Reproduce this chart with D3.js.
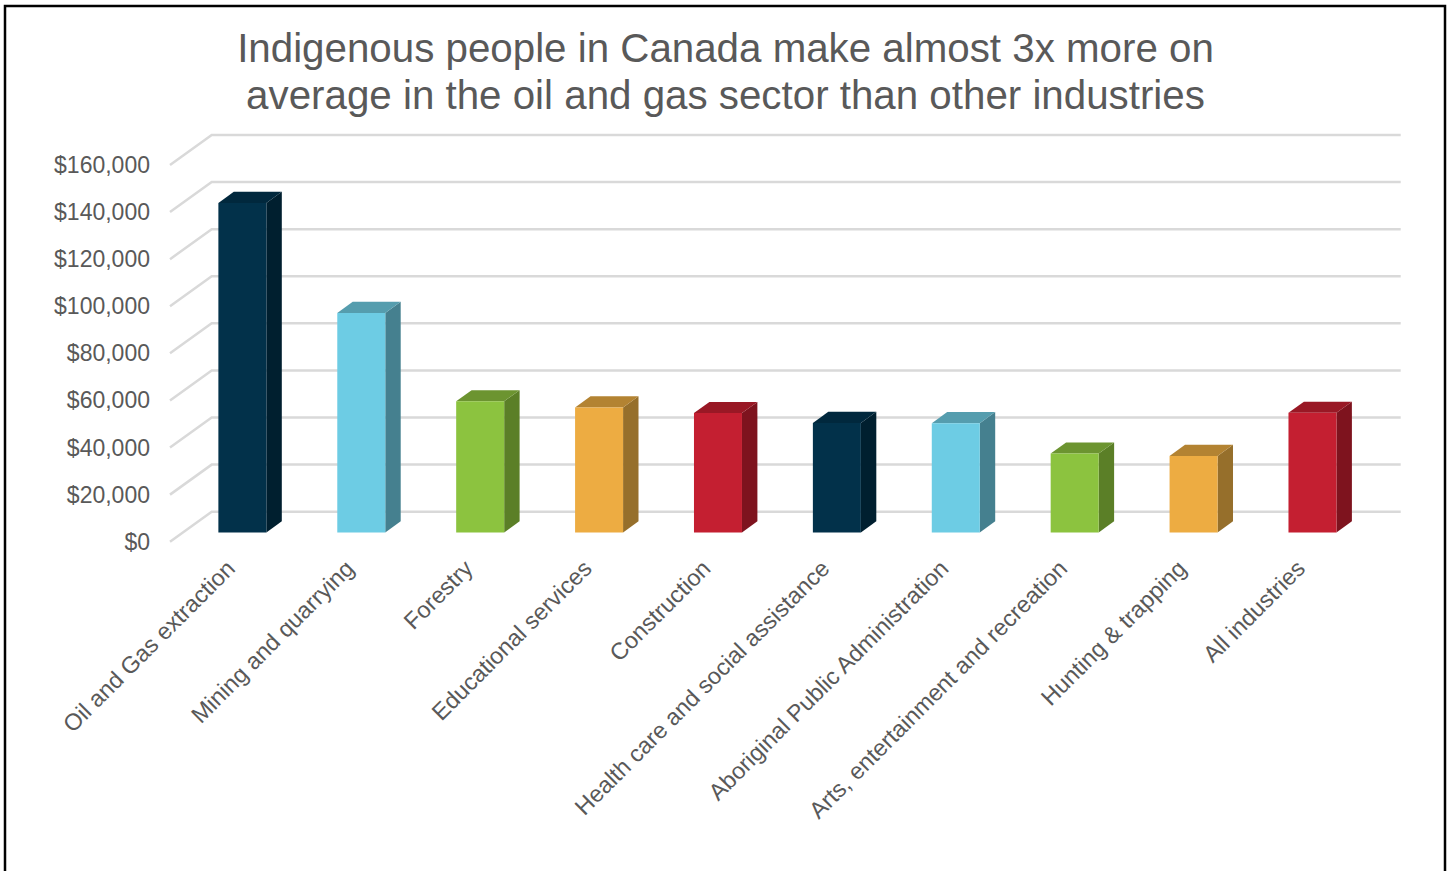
<!DOCTYPE html>
<html>
<head>
<meta charset="utf-8">
<script src="https://cdn.jsdelivr.net/npm/d3@7"></script>
<style>
  body { margin: 0; background: #fff; }
  text { font-family: "Liberation Sans", Arial, sans-serif; fill: #595959; }
</style>
</head>
<body>
<div id="chart"></div>
<script>
// Chart data
const titleLines = [
    "Indigenous people in Canada make almost 3x more on",
    "average in the oil and gas sector than other industries"
];
const industries = [
    "Oil and Gas extraction",
    "Mining and quarrying",
    "Forestry",
    "Educational services",
    "Construction",
    "Health care and social assistance",
    "Aboriginal Public Administration",
    "Arts, entertainment and recreation",
    "Hunting & trapping",
    "All industries"
];
const incomes = [139950, 93200, 55700, 53100, 50700, 46500, 46400, 33500, 32500, 50800];
const yTicks = [0, 20000, 40000, 60000, 80000, 100000, 120000, 140000, 160000];

// colour cycle: [front, side, top]
const palette = [
    ["#02314a", "#001f2f", "#01283d"],
    ["#6dcce4", "#45808f", "#559dae"],
    ["#8cc33f", "#5b7f27", "#6c9430"],
    ["#edac42", "#966f2b", "#b38332"],
    ["#c41f31", "#7e131e", "#991825"]
];

const width = 1449;
const height = 871;

const svg = d3.select("#chart")
    .append("svg")
    .attr("width", width)
    .attr("height", height);

// outer frame
svg.append("rect")
    .attr("x", 5).attr("y", 6)
    .attr("width", 1440).attr("height", 900)
    .attr("fill", "none")
    .attr("stroke", "#000")
    .attr("stroke-width", 2.5);

// title
svg.append("g").selectAll("text")
    .data(titleLines)
    .enter()
    .append("text")
    .attr("x", 725.5)
    .attr("y", (d, i) => 62 + i * 46.5)
    .attr("text-anchor", "middle")
    .style("font-size", "40.3px")
    .text(d => d);

// scales on the front plane; depth moves things up and right
const x = d3.scaleBand()
    .domain(industries)
    .range([170, 1359]);

const y = d3.scaleLinear()
    .domain([0, 160000])
    .range([541.7, 165]);

const depthX = 41.7, depthY = -30;
const proj = (px, py, d) => [px + d * depthX, py + d * depthY];

// gridlines: side wall diagonal + back wall horizontal
const grid = svg.append("g");
yTicks.forEach(t => {
    const front = proj(x.range()[0], y(t), 0);
    const backL = proj(x.range()[0], y(t), 1);
    const backR = proj(x.range()[1], y(t), 1);
    grid.append("polyline")
        .attr("points", [front, backL, backR].map(p => p.join(",")).join(" "))
        .attr("fill", "none")
        .attr("stroke", "#d9d9d9")
        .attr("stroke-width", 2.5);
});

// y tick labels
svg.append("g").selectAll("text")
    .data(yTicks)
    .enter()
    .append("text")
    .attr("x", 150)
    .attr("y", d => y(d))
    .attr("dy", "0.35em")
    .attr("text-anchor", "end")
    .style("font-size", "23px")
    .text(d => d3.format("$,")(d));

// 3D bars
const barW = 48;
const d0 = 0.31, d1 = 0.68;
const bars = svg.append("g").selectAll("g")
    .data(industries.map((name, i) => ({ name, value: incomes[i], i })))
    .enter()
    .append("g");

const pts = arr => arr.map(p => p.join(",")).join(" ");

bars.each(function(d) {
    const g = d3.select(this);
    const cx = x(d.name) + x.bandwidth() / 2;
    const xl = cx - barW / 2, xr = cx + barW / 2;
    const yb = y(0), yt = y(d.value);
    const c = palette[d.i % palette.length];

    const fBL = proj(xl, yb, d0), fBR = proj(xr, yb, d0);
    const fTL = proj(xl, yt, d0), fTR = proj(xr, yt, d0);
    const bBR = proj(xr, yb, d1), bTR = proj(xr, yt, d1), bTL = proj(xl, yt, d1);

    g.append("polygon").attr("points", pts([fBR, bBR, bTR, fTR])).attr("fill", c[1]);
    g.append("polygon").attr("points", pts([fTL, fTR, bTR, bTL])).attr("fill", c[2]);
    g.append("polygon").attr("points", pts([fBL, fBR, fTR, fTL])).attr("fill", c[0]);
});

// category labels, rotated
svg.append("g").selectAll("text")
    .data(industries)
    .enter()
    .append("text")
    .attr("text-anchor", "end")
    .attr("transform", d => {
        const cx = x(d) + x.bandwidth() / 2 + 7;
        return `translate(${cx},570) rotate(-45)`;
    })
    .style("font-size", "23.4px")
    .text(d => d);
</script>
</body>
</html>
